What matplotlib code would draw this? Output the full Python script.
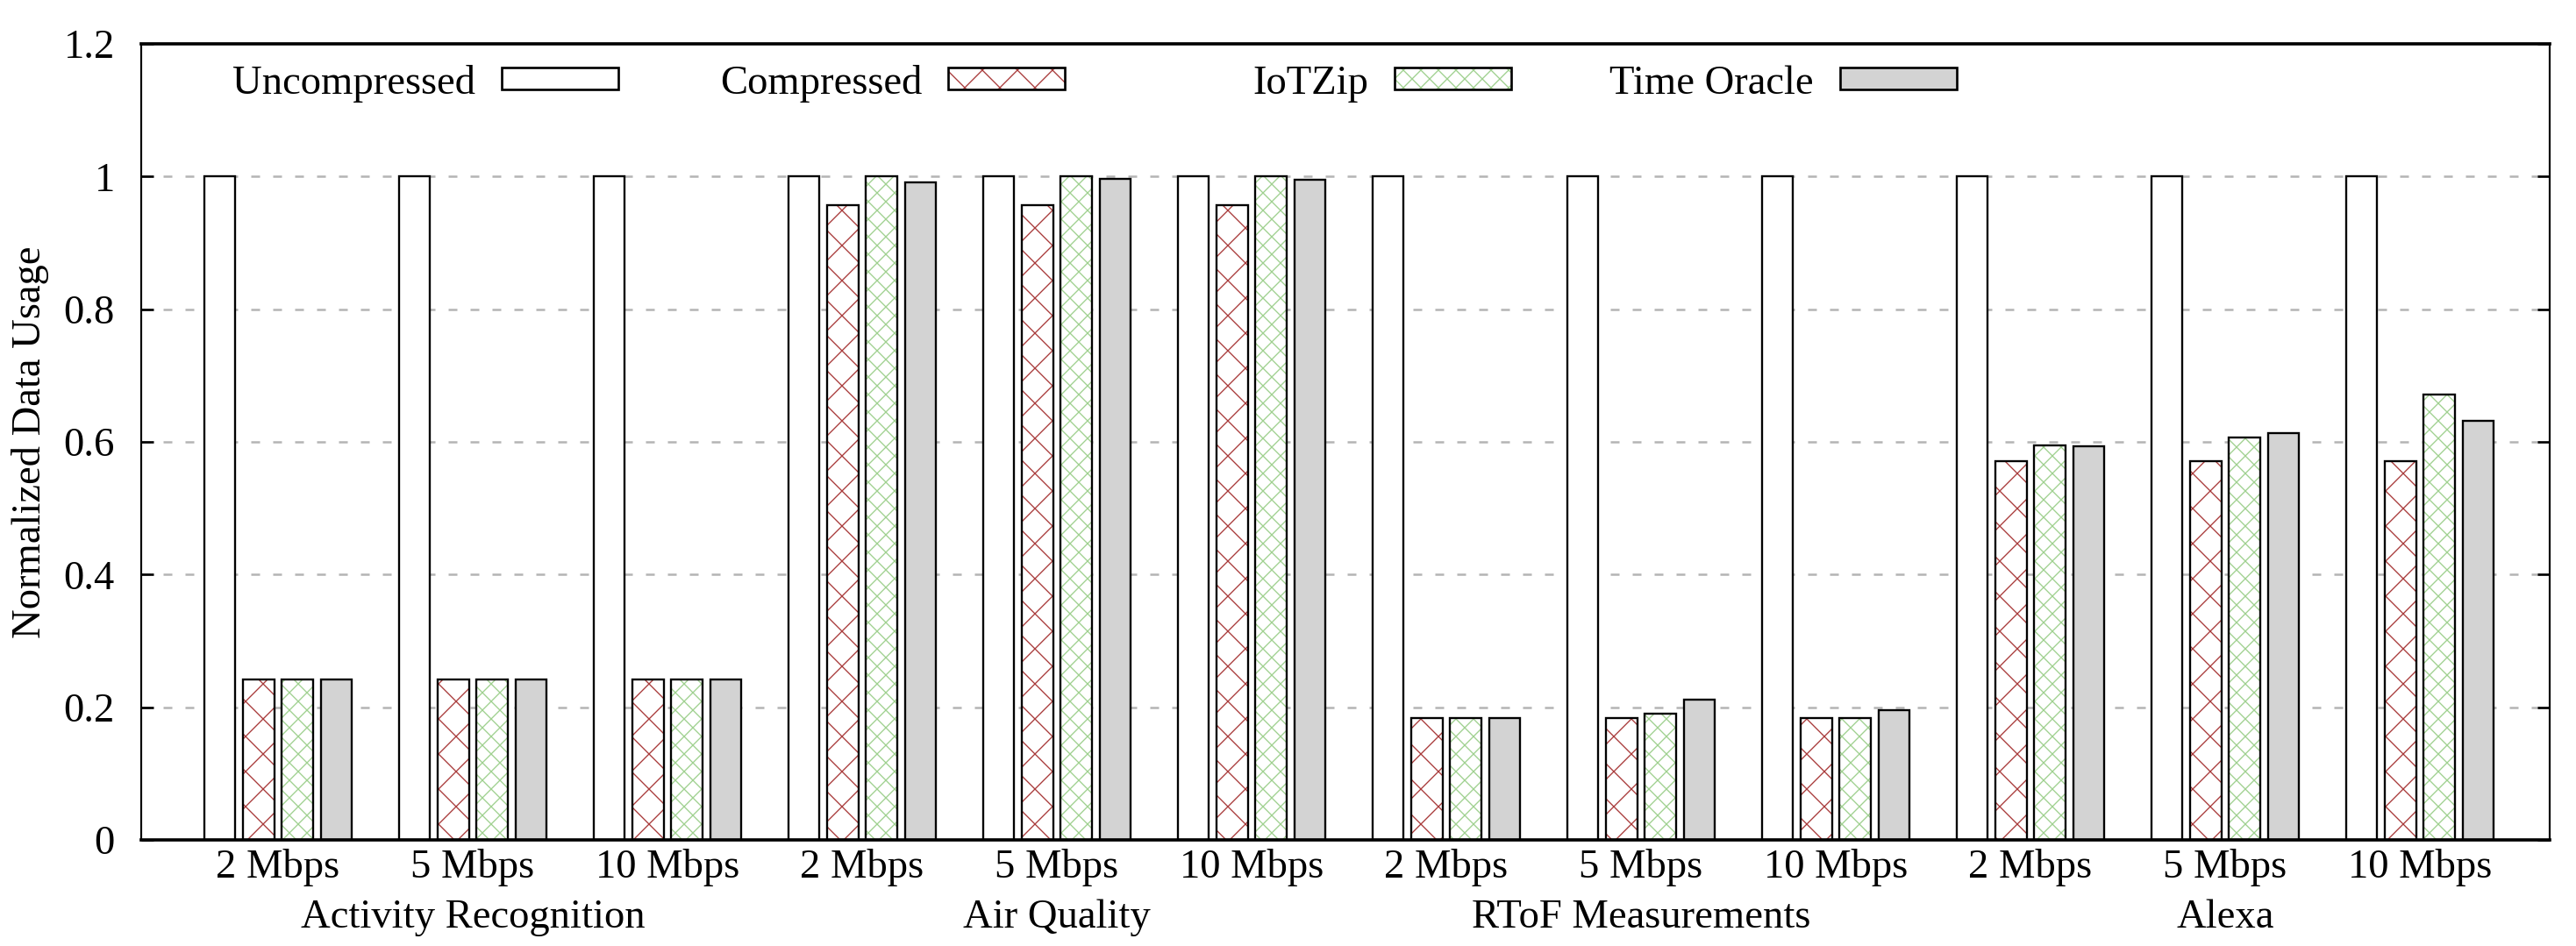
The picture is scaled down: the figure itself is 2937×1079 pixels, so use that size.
import numpy as np
import matplotlib
matplotlib.use('Agg')
from matplotlib import pyplot as plt
from matplotlib.patches import Rectangle
from matplotlib import transforms

# values
rates = ['2 Mbps', '5 Mbps', '10 Mbps'] * 4
apps = ['Activity Recognition', 'Air Quality', 'RToF Measurements', 'Alexa']
series_names = ['Uncompressed', 'Compressed', 'IoTZip', 'Time Oracle']

uncompressed = [1, 1, 1, 1, 1, 1, 1, 1, 1, 1, 1, 1]
compressed = [0.242, 0.242, 0.242, 0.957, 0.957, 0.957,
              0.184, 0.184, 0.184, 0.571, 0.571, 0.571]
iotzip = [0.242, 0.242, 0.242, 1.0, 1.0, 1.0,
          0.184, 0.190, 0.184, 0.595, 0.606, 0.671]
oracle = [0.242, 0.242, 0.242, 0.991, 0.997, 0.995,
          0.184, 0.212, 0.195, 0.593, 0.613, 0.632]

yticks = [0, 0.2, 0.4, 0.6, 0.8, 1.0, 1.2]
ytick_labels = ['0', '0.2', '0.4', '0.6', '0.8', '1', '1.2']

plt.rcParams['font.family'] = ['Liberation Serif', 'DejaVu Serif']
plt.rcParams['hatch.linewidth'] = 0.8

RED = '#a83a3a'
GREEN = '#9fd08f'
GRAY = '#d3d3d3'
FS = 28

# (face, hatch, hatch colour)
styles = [
    ('white', None, None),
    ('white', 'x', RED),
    ('white', 'xx', GREEN),
    (GRAY, None, None),
]

fig = plt.figure(figsize=(2937 / 120, 1079 / 120), dpi=120)
ax = fig.add_axes([0.0548, 0.1121, 0.9350, 0.8416])

x = np.arange(len(rates))
width = 0.16
all_series = [uncompressed, compressed, iotzip, oracle]

for i, vals in enumerate(all_series):
    face, hatch, hcol = styles[i]
    pos = x + (i - 1.5) * 0.2
    if hatch:
        ax.bar(pos, vals, width, color=face, hatch=hatch, edgecolor=hcol,
               linewidth=0, zorder=2)
    else:
        ax.bar(pos, vals, width, color=face, linewidth=0, zorder=2)
    ax.bar(pos, vals, width, fill=False, edgecolor='black', linewidth=1.4,
           zorder=3)

ax.set_xlim(-0.703, 11.667)
ax.set_ylim(0, 1.2)
ax.set_yticks(yticks)
ax.set_yticklabels(ytick_labels, fontsize=FS)
ax.set_xticks(x)
ax.set_xticklabels(rates, fontsize=FS)
ax.tick_params(axis='y', direction='in', length=8.4, width=1.6, right=True,
               pad=18)
ax.tick_params(axis='x', length=0, pad=6)

# dashed grid, behind the bars
for yv in yticks[1:-1]:
    ax.axhline(yv, color='#b4b4b4', linewidth=1.5, dashes=(4, 6), zorder=1)

for side in ['top', 'bottom']:
    ax.spines[side].set_linewidth(2.2)
for side in ['left', 'right']:
    ax.spines[side].set_linewidth(1.3)

ax.set_ylabel('Normalized Data Usage', fontsize=FS)
ax.yaxis.set_label_coords(-0.046, 0.5)
ax.yaxis.label.set_va('center')

# application names under the middle rate of each group
trans = transforms.blended_transform_factory(ax.transData, ax.transAxes)
for k, name in enumerate(apps):
    ax.text(3 * k + 1, -0.110, name, transform=trans, ha='center',
            va='baseline', fontsize=FS)

# gnuplot-like legend: text then swatch
sw_right = [0.1981, 0.3835, 0.5688, 0.7538]
sw_w = 0.0484
for i, name in enumerate(series_names):
    face, hatch, hcol = styles[i]
    x0 = sw_right[i] - sw_w
    if hatch:
        ax.add_patch(Rectangle((x0, 0.9427), sw_w, 0.0276, transform=ax.transAxes,
                               facecolor=face, hatch=hatch, edgecolor=hcol,
                               linewidth=0, zorder=4))
    else:
        ax.add_patch(Rectangle((x0, 0.9427), sw_w, 0.0276, transform=ax.transAxes,
                               facecolor=face, linewidth=0, zorder=4))
    ax.add_patch(Rectangle((x0, 0.9427), sw_w, 0.0276, transform=ax.transAxes,
                           fill=False, edgecolor='black', linewidth=1.6, zorder=5))
    ax.text(x0 - 0.0109, 0.937, name, transform=ax.transAxes, ha='right',
            va='baseline', fontsize=FS)

plt.savefig('out.png', dpi=120)
